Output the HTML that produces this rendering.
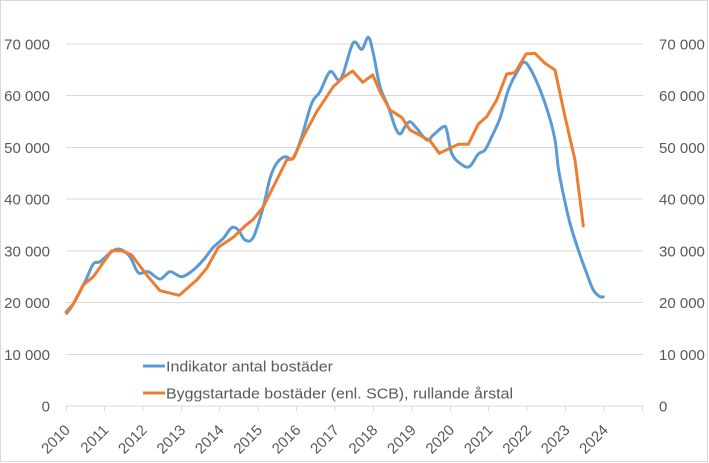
<!DOCTYPE html>
<html><head><meta charset="utf-8">
<style>
html,body{margin:0;padding:0;background:#fff;}
svg{display:block;}
text{font-family:"Liberation Sans",Arial,sans-serif;fill:#595959;}
</style></head>
<body>
<svg id="c" width="709" height="463" viewBox="0 0 709 463" xmlns="http://www.w3.org/2000/svg">
<rect x="0" y="0" width="709" height="463" fill="#fff"/>
<rect x="0.5" y="0.5" width="707" height="461" fill="none" stroke="#D9D9D9" stroke-width="1"/>
<g stroke="#D9D9D9" stroke-width="1" shape-rendering="crispEdges">
<line x1="66" y1="44" x2="643" y2="44"/>
<line x1="66" y1="95.7" x2="643" y2="95.7"/>
<line x1="66" y1="147.4" x2="643" y2="147.4"/>
<line x1="66" y1="199.2" x2="643" y2="199.2"/>
<line x1="66" y1="250.9" x2="643" y2="250.9"/>
<line x1="66" y1="302.6" x2="643" y2="302.6"/>
<line x1="66" y1="354.3" x2="643" y2="354.3"/>
<line x1="66" y1="406" x2="643" y2="406"/>
</g>
<g id="ticks" stroke="#D9D9D9" stroke-width="1" shape-rendering="crispEdges"></g>
<g font-size="15" text-anchor="end">
<text x="50" y="49.5">70 000</text>
<text x="50" y="101.2">60 000</text>
<text x="50" y="152.9">50 000</text>
<text x="50" y="204.7">40 000</text>
<text x="50" y="256.4">30 000</text>
<text x="50" y="308.1">20 000</text>
<text x="50" y="359.8">10 000</text>
<text x="50" y="411.5">0</text>
</g>
<g font-size="15" text-anchor="start">
<text x="659" y="49.5">70 000</text>
<text x="659" y="101.2">60 000</text>
<text x="659" y="152.9">50 000</text>
<text x="659" y="204.7">40 000</text>
<text x="659" y="256.4">30 000</text>
<text x="659" y="308.1">20 000</text>
<text x="659" y="359.8">10 000</text>
<text x="659" y="411.5">0</text>
</g>
<g id="xl" font-size="15" text-anchor="end">
<text transform="translate(71,431) rotate(-45)">2010</text>
<text transform="translate(109.4,431) rotate(-45)">2011</text>
<text transform="translate(147.9,431) rotate(-45)">2012</text>
<text transform="translate(186.3,431) rotate(-45)">2013</text>
<text transform="translate(224.7,431) rotate(-45)">2014</text>
<text transform="translate(263.2,431) rotate(-45)">2015</text>
<text transform="translate(301.6,431) rotate(-45)">2016</text>
<text transform="translate(340,431) rotate(-45)">2017</text>
<text transform="translate(378.4,431) rotate(-45)">2018</text>
<text transform="translate(416.9,431) rotate(-45)">2019</text>
<text transform="translate(455.3,431) rotate(-45)">2020</text>
<text transform="translate(493.7,431) rotate(-45)">2021</text>
<text transform="translate(532.2,431) rotate(-45)">2022</text>
<text transform="translate(570.6,431) rotate(-45)">2023</text>
<text transform="translate(609,431) rotate(-45)">2024</text>
</g>
<polyline id="blue" fill="none" stroke="#5B9BD5" stroke-width="3" stroke-linejoin="round" stroke-linecap="round"
points="66.7,313.3 73.3,304 85,281.7 93.3,264 100,261.7 111.7,251.7 120,249.3 130,256.7 138.3,272.7 148.3,271.7 160,279 170,271.7 181.7,276.7 193.3,270 203.3,260 213.3,247.3 223.3,238.3 231.7,227.7 238.3,230 245,240 253.3,237.3 263.3,206.7 270,178.3 276.7,163.3 285,156.7 293.3,158.3 301.7,136.7 311.7,103.3 320,91.7 330,71.7 338.3,80 343.3,73.3 353.3,42.7 361.7,49.3 368.3,37.3 373.3,53.3 380,86.7 388.3,106.7 395,126.7 400,134 405,126.7 410,121.7 416.7,128.3 426.7,140 433.3,135 443.3,126.7 446.7,130 451.7,153.3 460,163.3 469.3,166.7 478.3,154 485,150 491.7,136.7 500,118.3 508.3,90 516.7,72.7 525,62.3 536.7,81.7 548.3,113.3 555,140 558.3,168 563.3,194 570,223.3 578.3,250 586.7,273.3 593.3,290 600,296.7 603.3,296.7"/>
<polyline fill="none" stroke="#ED7D31" stroke-width="3" stroke-linejoin="round" stroke-linecap="round"
points="66,312 73.3,304 83.3,285 93.3,276.7 111.7,250.7 121.7,250.7 131.7,255 146.7,275 160,290.7 179.3,295.3 196.7,280 206.7,268.3 218.3,247.3 233.3,237.3 245,226 253.3,219.3 263.3,206.7 276.7,180 286.7,160 293.3,158.3 303.3,136.7 316.7,111.7 333.3,86.7 343.3,77.3 352.7,71 362.7,82.3 372.7,75 380,91.7 390,110 401.7,117.3 410,130 430,140.7 439.3,153.3 458.3,144.3 468.3,144.3 478.3,124 486.7,116.7 496.7,100 506.7,74 515,72.7 526,54 535,53.3 545,63.3 555,70 565,116.7 575,160 583.3,226"/>
<line x1="143" y1="366" x2="165" y2="366" stroke="#5B9BD5" stroke-width="3"/>
<line x1="143" y1="393" x2="165" y2="393" stroke="#ED7D31" stroke-width="3"/>
<text x="166" y="371.5" font-size="15" textLength="167" lengthAdjust="spacingAndGlyphs">Indikator antal bostäder</text>
<text x="166" y="398.5" font-size="15" textLength="347" lengthAdjust="spacingAndGlyphs">Byggstartade bostäder (enl. SCB), rullande årstal</text>
</svg>
<script>
(function(){
  var g=document.getElementById('ticks');
  for(var i=0;i<=15;i++){
    var x=66+i*38.43;
    var l=document.createElementNS('http://www.w3.org/2000/svg','line');
    l.setAttribute('x1',x);l.setAttribute('x2',x);
    l.setAttribute('y1',406);l.setAttribute('y2',411);
    g.appendChild(l);
  }
  var pl=document.getElementById('blue');
  var pts=pl.getAttribute('points').trim().split(/\s+/).map(function(s){var a=s.split(',');return [+a[0],+a[1]];});
  var d='M'+pts[0][0]+','+pts[0][1];
  for(var k=0;k<pts.length-1;k++){
    var p0=pts[k>0?k-1:k],p1=pts[k],p2=pts[k+1],p3=pts[k+2<pts.length?k+2:k+1];
    var t=6;
    var c1x=p1[0]+(p2[0]-p0[0])/t,c1y=p1[1]+(p2[1]-p0[1])/t;
    var c2x=p2[0]-(p3[0]-p1[0])/t,c2y=p2[1]-(p3[1]-p1[1])/t;
    d+=' C'+c1x.toFixed(2)+','+c1y.toFixed(2)+' '+c2x.toFixed(2)+','+c2y.toFixed(2)+' '+p2[0]+','+p2[1];
  }
  var path=document.createElementNS('http://www.w3.org/2000/svg','path');
  path.setAttribute('d',d);
  path.setAttribute('fill','none');
  path.setAttribute('stroke','#5B9BD5');
  path.setAttribute('stroke-width','3');
  path.setAttribute('stroke-linecap','round');
  path.setAttribute('stroke-linejoin','round');
  pl.parentNode.replaceChild(path,pl);
})();
</script>
</body></html>
